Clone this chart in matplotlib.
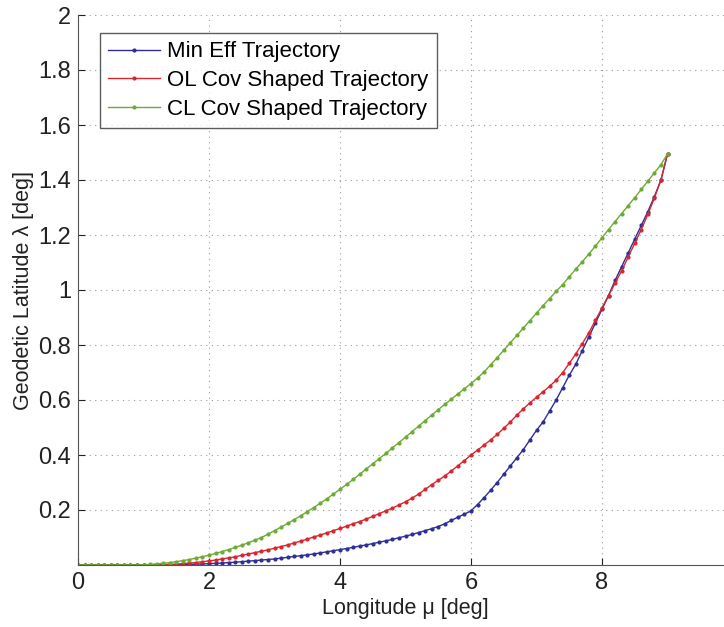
import matplotlib
matplotlib.use("Agg")
import matplotlib.pyplot as plt

plt.rcParams['font.family'] = ['Liberation Sans', 'DejaVu Sans']

# longitude samples [deg]
lon = [0.0, 0.1, 0.2, 0.3, 0.4, 0.5, 0.6, 0.7, 0.8, 0.9,
       1.0, 1.1, 1.2, 1.3, 1.4, 1.5, 1.6, 1.7, 1.8, 1.9,
       2.0, 2.1, 2.2, 2.3, 2.4, 2.5, 2.6, 2.7, 2.8, 2.9,
       3.0, 3.1, 3.2, 3.3, 3.4, 3.5, 3.6, 3.7, 3.8, 3.9,
       4.0, 4.1, 4.2, 4.3, 4.4, 4.5, 4.6, 4.7, 4.8, 4.9,
       5.0, 5.1, 5.2, 5.3, 5.4, 5.5, 5.6, 5.7, 5.8, 5.9,
       6.0, 6.1, 6.2, 6.3, 6.4, 6.5, 6.6, 6.7, 6.8, 6.9,
       7.0, 7.1, 7.2, 7.3, 7.4, 7.5, 7.6, 7.7, 7.8, 7.9,
       8.0, 8.1, 8.2, 8.3, 8.4, 8.5, 8.6, 8.7, 8.8, 8.9,
       9.0]

# geodetic latitude [deg]
lat_min_eff = [0, 0, 0, 0, 0, 0, 0, 0, 0, 0,
               0, 0.0002, 0.0004, 0.0006, 0.0008, 0.001, 0.0015, 0.002, 0.003, 0.004,
               0.005, 0.006, 0.007, 0.009, 0.010, 0.012, 0.014, 0.016, 0.018, 0.020,
               0.022, 0.025, 0.028, 0.031, 0.034, 0.037, 0.040, 0.044, 0.048, 0.052,
               0.056, 0.060, 0.064, 0.069, 0.073, 0.078, 0.083, 0.088, 0.093, 0.099,
               0.105, 0.111, 0.118, 0.125, 0.132, 0.140, 0.150, 0.162, 0.174, 0.185,
               0.197, 0.220, 0.245, 0.272, 0.300, 0.330, 0.360, 0.390, 0.420, 0.455,
               0.490, 0.520, 0.560, 0.600, 0.645, 0.690, 0.730, 0.780, 0.830, 0.880,
               0.930, 0.980, 1.035, 1.085, 1.135, 1.185, 1.235, 1.285, 1.340, 1.400,
               1.495]

lat_ol_cov = [0, 0, 0, 0, 0, 0, 0, 0, 0, 0,
              0, 0, 0, 0.001, 0.002, 0.003, 0.005, 0.007, 0.009, 0.012,
              0.015, 0.018, 0.022, 0.026, 0.030, 0.035, 0.040, 0.045, 0.050, 0.055,
              0.061, 0.067, 0.073, 0.080, 0.087, 0.094, 0.102, 0.109, 0.117, 0.125,
              0.133, 0.141, 0.150, 0.158, 0.167, 0.177, 0.187, 0.197, 0.207, 0.218,
              0.230, 0.243, 0.258, 0.275, 0.292, 0.308, 0.324, 0.342, 0.361, 0.380,
              0.400, 0.418, 0.436, 0.455, 0.475, 0.497, 0.520, 0.545, 0.568, 0.590,
              0.610, 0.630, 0.650, 0.672, 0.700, 0.733, 0.768, 0.805, 0.845, 0.890,
              0.935, 0.980, 1.025, 1.070, 1.120, 1.170, 1.220, 1.275, 1.335, 1.400,
              1.495]

lat_cl_cov = [0, 0, 0, 0, 0, 0, 0, 0, 0, 0,
              0.001, 0.002, 0.004, 0.006, 0.009, 0.012, 0.016, 0.020, 0.025, 0.030,
              0.036, 0.042, 0.049, 0.056, 0.064, 0.072, 0.081, 0.090, 0.100, 0.112,
              0.125, 0.138, 0.151, 0.165, 0.179, 0.194, 0.209, 0.225, 0.241, 0.258,
              0.275, 0.293, 0.311, 0.330, 0.349, 0.368, 0.387, 0.406, 0.426, 0.445,
              0.465, 0.485, 0.505, 0.525, 0.545, 0.565, 0.584, 0.603, 0.622, 0.641,
              0.660, 0.680, 0.702, 0.728, 0.754, 0.781, 0.808, 0.835, 0.862, 0.889,
              0.916, 0.943, 0.969, 0.995, 1.020, 1.048, 1.076, 1.103, 1.131, 1.160,
              1.190, 1.220, 1.249, 1.278, 1.307, 1.336, 1.366, 1.396, 1.426, 1.456,
              1.495]

labels = ['Min Eff Trajectory', 'OL Cov Shaped Trajectory', 'CL Cov Shaped Trajectory']
colors = ['#2e2e96', '#d8262e', '#6cab34']

xticks = [0, 2, 4, 6, 8]
yticks = [0.2, 0.4, 0.6, 0.8, 1.0, 1.2, 1.4, 1.6, 1.8, 2.0]
ytick_labels = ['0.2', '0.4', '0.6', '0.8', '1', '1.2', '1.4', '1.6', '1.8', '2']

fig = plt.figure(figsize=(7.24, 6.27), dpi=100)
# x axis runs to 10, which falls just past the right edge of the canvas
ax = fig.add_axes([78 / 724, 62 / 627, 655 / 724, 550 / 627])

for lat, lab, col in zip([lat_min_eff, lat_ol_cov, lat_cl_cov], labels, colors):
    ax.plot(lon, lat, '-', color=col, lw=1.0, marker='.', markersize=4, label=lab)

ax.set_xlim(0, 10)
ax.set_ylim(0, 2)
ax.set_xticks(xticks)
ax.set_yticks(yticks)
ax.set_yticklabels(ytick_labels)
ax.tick_params(direction='in', length=5, labelsize=17, colors='#222222', pad=5)
ax.grid(True, linestyle=(0, (1, 4)), color='#999999', lw=0.8)
ax.spines['top'].set_visible(False)
ax.spines['right'].set_visible(False)
for s in ['left', 'bottom']:
    ax.spines[s].set_color('#555555')

ax.set_xlabel('Longitude μ [deg]', fontsize=15.5, color='#222222', labelpad=3)
ax.set_ylabel('Geodetic Latitude λ [deg]', fontsize=15.5, color='#222222', labelpad=3)

leg = ax.legend(loc='upper left', bbox_to_anchor=(100 / 724, 1 - 33 / 627),
                bbox_transform=fig.transFigure, fontsize=16, frameon=True,
                fancybox=False, handlelength=2.3, borderpad=0.38,
                labelspacing=0.35, handletextpad=0.35, borderaxespad=0)
leg.get_frame().set_edgecolor('#333333')
leg.get_frame().set_linewidth(1.0)

fig.savefig('out.png', dpi=100)
